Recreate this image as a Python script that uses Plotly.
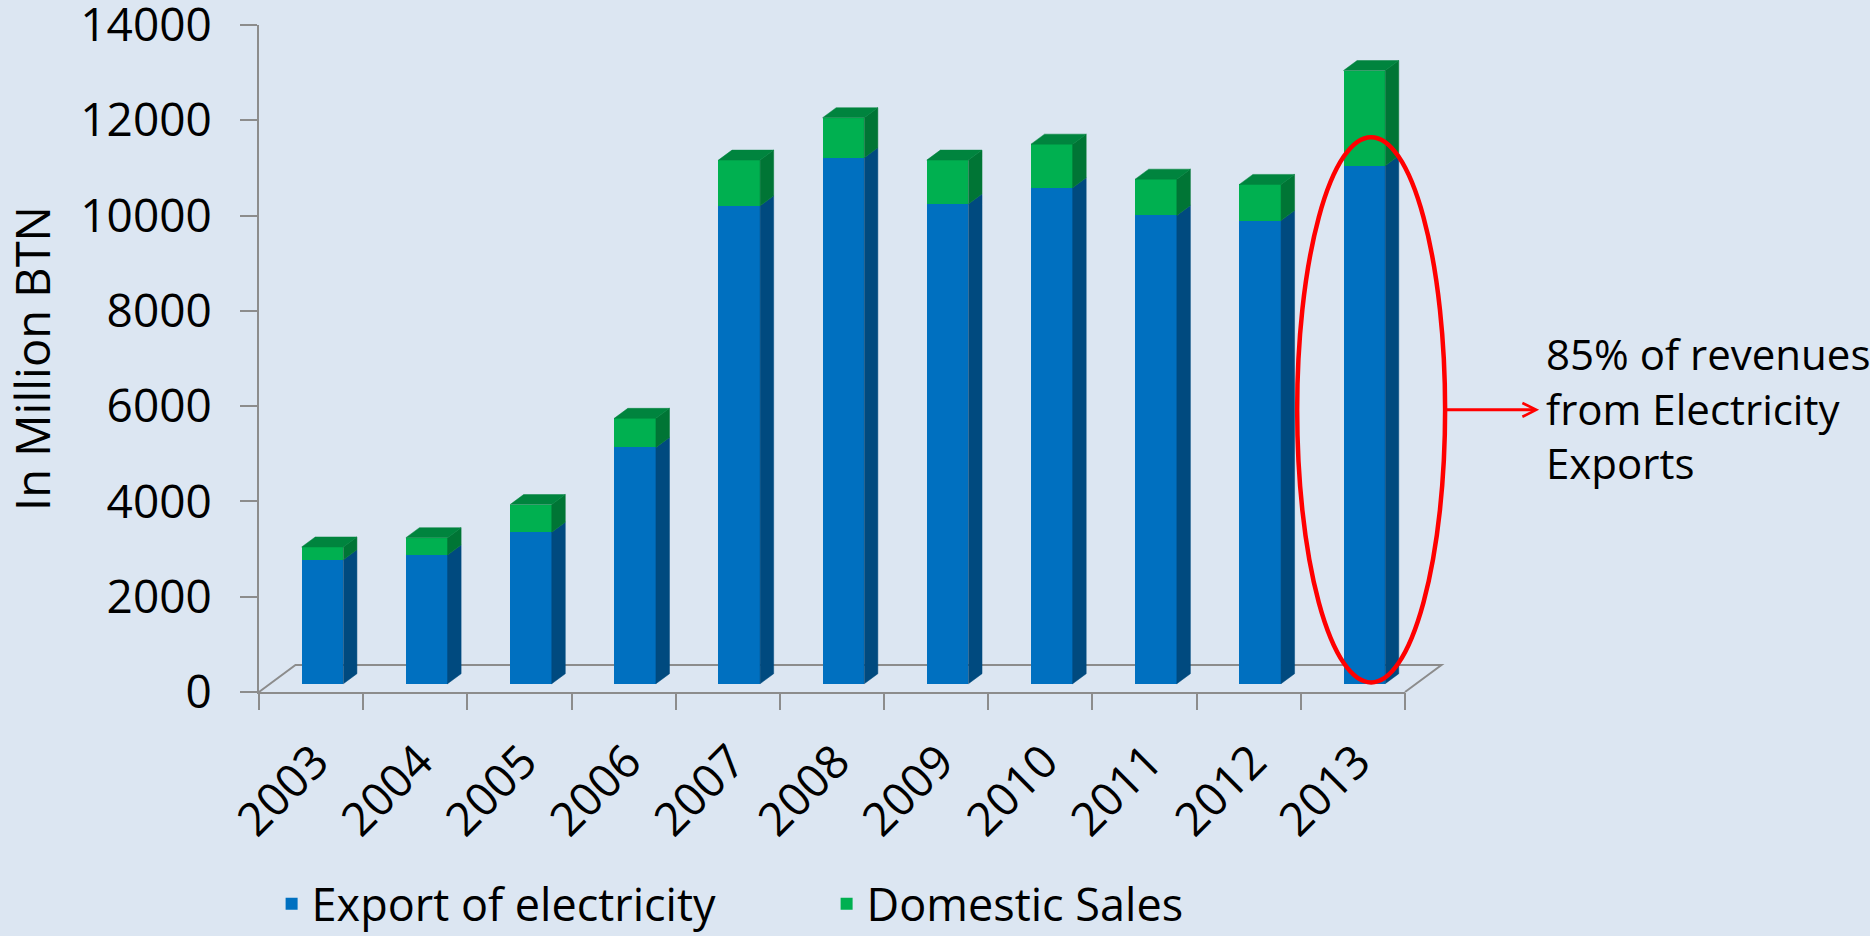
import plotly.graph_objects as go

# ---------------- data ----------------
years = ["2003", "2004", "2005", "2006", "2007", "2008", "2009", "2010", "2011", "2012", "2013"]
export = [2600, 2700, 3180, 4960, 10030, 11040, 10070, 10410, 9830, 9720, 10870]
domestic = [270, 365, 580, 610, 960, 840, 920, 915, 760, 760, 2000]
y_ticks = [0, 2000, 4000, 6000, 8000, 10000, 12000, 14000]
y_tick_text = [str(v) for v in y_ticks]
series_names = ["Export of electricity", "Domestic Sales"]
note_text = "85% of revenues<br>from Electricity<br>Exports"

# ---------------- style ----------------
BG = "#DCE6F2"
BLUE, BLUE_SIDE = "#0070C0", "#004A7F"
GREEN, GREEN_SIDE, GREEN_TOP = "#00B050", "#007535", "#00843E"
AXIS = "#8C8C8C"
RED = "#FF0000"
FONT = "Open Sans"

W, H = 1870, 936
ML, MR, MT, MB = 259, 465, 25, 244
X_RANGE = [-0.5, len(years) - 0.5]
Y_RANGE = [0, 14000]

BAR_W = 0.40        # front face width (category units)
BAR_SHIFT = 0.11    # bars sit a little behind / right of the front edge
DEPTH_X = 0.13      # 3D depth of bars
DEPTH_Y = 210
FLOOR_X = 0.35      # 3D depth of the floor
FLOOR_Y = 566
BASE_LIFT = 174     # bar base lies behind the front edge of the floor

idx = list(range(len(years)))
totals = [e + d for e, d in zip(export, domestic)]


def px_x(u):
    return (u - X_RANGE[0]) / (X_RANGE[1] - X_RANGE[0])


def px_y(v):
    return (v - Y_RANGE[0]) / (Y_RANGE[1] - Y_RANGE[0])


def side_faces(lows, highs):
    xs, ys = [], []
    for i, lo, hi in zip(idx, lows, highs):
        xr = i + BAR_SHIFT + BAR_W / 2
        xs += [xr, xr + DEPTH_X, xr + DEPTH_X, xr, xr, None]
        ys += [lo, lo + DEPTH_Y, hi + DEPTH_Y, hi, lo, None]
    return xs, ys


def top_faces(tops):
    xs, ys = [], []
    for i, t in zip(idx, tops):
        xl = i + BAR_SHIFT - BAR_W / 2
        xr = xl + BAR_W
        xs += [xl, xl + DEPTH_X, xr + DEPTH_X, xr, xl, None]
        ys += [t, t + DEPTH_Y, t + DEPTH_Y, t, t, None]
    return xs, ys


fig = go.Figure()

fig.add_trace(go.Bar(x=idx, y=export, name=series_names[0], marker_color=BLUE,
                     marker_line_width=0, width=BAR_W, offset=BAR_SHIFT - BAR_W / 2,
                     yaxis="y2", hoverinfo="skip"))
fig.add_trace(go.Bar(x=idx, y=domestic, name=series_names[1], marker_color=GREEN,
                     marker_line_width=0, width=BAR_W, offset=BAR_SHIFT - BAR_W / 2,
                     yaxis="y2", hoverinfo="skip"))

sx, sy = side_faces([0] * len(export), export)
fig.add_trace(go.Scatter(x=sx, y=sy, fill="toself", fillcolor=BLUE_SIDE, mode="lines",
                         line=dict(color=BLUE_SIDE, width=0.5), yaxis="y2",
                         showlegend=False, hoverinfo="skip"))
sx, sy = side_faces(export, totals)
fig.add_trace(go.Scatter(x=sx, y=sy, fill="toself", fillcolor=GREEN_SIDE, mode="lines",
                         line=dict(color=GREEN_SIDE, width=0.5), yaxis="y2",
                         showlegend=False, hoverinfo="skip"))
tx, ty = top_faces(totals)
fig.add_trace(go.Scatter(x=tx, y=ty, fill="toself", fillcolor=GREEN_TOP, mode="lines",
                         line=dict(color=GREEN_TOP, width=0.5), yaxis="y2",
                         showlegend=False, hoverinfo="skip"))

# invisible trace so the boundary-tick axis is drawn
fig.add_trace(go.Scatter(x=[X_RANGE[0], X_RANGE[1]], y=[0, 0], xaxis="x2", yaxis="y",
                         mode="markers", marker=dict(opacity=0), showlegend=False,
                         hoverinfo="skip"))

# 3D floor (back edge + sides)
fl = [(px_x(X_RANGE[0]), px_y(0)),
      (px_x(X_RANGE[0] + FLOOR_X), px_y(FLOOR_Y)),
      (px_x(X_RANGE[1] + FLOOR_X), px_y(FLOOR_Y)),
      (px_x(X_RANGE[1]), px_y(0))]
path = "M " + " L ".join(f"{a:.5f},{b:.5f}" for a, b in fl)
fig.add_shape(type="path", path=path, xref="paper", yref="paper",
              line=dict(color=AXIS, width=2), layer="below")

# red ellipse around the last bar
last = len(years) - 1
ecx = last + BAR_SHIFT + DEPTH_X / 2
ehw = 0.71
ey0, ey1 = 200, export[last] + 775
fig.add_shape(type="circle", xref="paper", yref="paper",
              x0=px_x(ecx - ehw), x1=px_x(ecx + ehw), y0=px_y(ey0), y1=px_y(ey1),
              line=dict(color=RED, width=4.5), layer="above")

# arrow + note
ecy = (ey0 + ey1) / 2
arrow_len_px = 94
plot_w = W - ML - MR
tip_x = px_x(ecx + ehw) + arrow_len_px / plot_w
fig.add_annotation(x=tip_x, y=px_y(ecy), xref="paper", yref="paper", text="",
                   showarrow=True, ax=-arrow_len_px, ay=0, arrowhead=5, arrowsize=0.9,
                   arrowwidth=3, arrowcolor=RED)
fig.add_annotation(x=tip_x, y=px_y(ecy), xref="paper", yref="paper", text=note_text,
                   showarrow=False, xanchor="left", yanchor="middle", align="left",
                   xshift=5, yshift=2, font=dict(family=FONT, size=42, color="black"))

fig.update_layout(
    width=W, height=H,
    margin=dict(l=ML, r=MR, t=MT, b=MB, autoexpand=False),
    paper_bgcolor=BG, plot_bgcolor="rgba(0,0,0,0)",
    barmode="stack", bargap=0,
    font=dict(family=FONT, color="black"),
    showlegend=True,
    legend=dict(orientation="h", x=0.011, xanchor="left", y=-0.3178, yanchor="middle",
                font=dict(family=FONT, size=45), bgcolor="rgba(0,0,0,0)",
                entrywidth=510, entrywidthmode="pixels", traceorder="normal"),
    xaxis=dict(range=X_RANGE, tickmode="array", tickvals=idx, ticktext=years,
               tickangle=-45, ticks="", showline=True, linecolor=AXIS, linewidth=2,
               showgrid=False, zeroline=False, tickfont=dict(size=46),
               ticklabelstandoff=22, ticklabelshift=4, fixedrange=True),
    xaxis2=dict(overlaying="x", anchor="y", side="bottom", range=X_RANGE,
                tickmode="array", tickvals=[i - 0.5 for i in range(len(years) + 1)],
                ticks="outside", ticklen=17, tickwidth=2, tickcolor=AXIS,
                showticklabels=False, showgrid=False, zeroline=False, showline=False,
                fixedrange=True),
    yaxis=dict(range=Y_RANGE, tickmode="array", tickvals=y_ticks, ticktext=y_tick_text,
               ticks="outside", ticklen=17, tickwidth=2, tickcolor=AXIS, showline=True,
               linecolor=AXIS, linewidth=2, showgrid=False, zeroline=False,
               tickfont=dict(size=46), ticklabelstandoff=19, ticklabeloverflow="allow",
               title=dict(text="In Million BTN", font=dict(size=47), standoff=15),
               fixedrange=True),
    yaxis2=dict(overlaying="y", range=[Y_RANGE[0] - BASE_LIFT, Y_RANGE[1] - BASE_LIFT],
                visible=False, fixedrange=True),
)

fig.write_html("out.html")
